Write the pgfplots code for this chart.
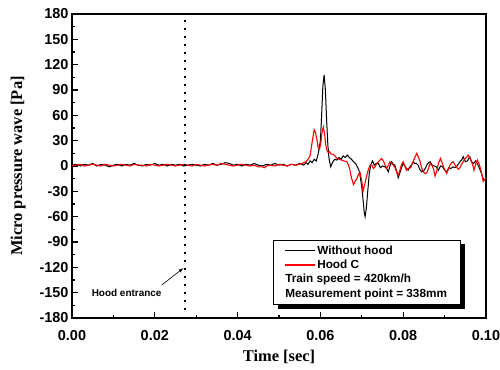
\documentclass[border=0pt]{standalone}
\usepackage{fontspec}
\setmainfont{Liberation Sans}
\newfontfamily\serifb{Liberation Serif}
\usepackage{pgfplots}
\usepackage{pgfplotstable}
\pgfplotsset{compat=1.18}
\usetikzlibrary{backgrounds}

\pgfplotstableread{
t v
0.0000 1
0.0010 2
0.0020 0
0.0030 2
0.0040 1
0.0050 3
0.0060 0
0.0070 2
0.0080 1
0.0090 -1
0.0100 1
0.0110 2
0.0120 0
0.0130 2
0.0140 1
0.0150 3
0.0160 1
0.0170 0
0.0180 2
0.0190 1
0.0200 3
0.0210 1
0.0220 2
0.0230 0
0.0240 2
0.0250 1
0.0260 2
0.0270 0
0.0280 1
0.0290 2
0.0300 1
0.0310 0
0.0320 2
0.0330 1
0.0340 3
0.0350 1
0.0360 2
0.0370 4
0.0380 3
0.0390 1
0.0400 2
0.0410 0
0.0420 2
0.0430 1
0.0440 3
0.0450 1
0.0460 0
0.0470 2
0.0480 1
0.0490 3
0.0500 1
0.0510 2
0.0520 0
0.0530 2
0.0540 1
0.0550 3
0.0560 1
0.0565 4
0.0570 2
0.0575 6
0.0580 4
0.0585 8
0.0590 6
0.0595 15
0.0600 30
0.0603 60
0.0606 95
0.0609 108
0.0612 90
0.0615 55
0.0618 25
0.0621 8
0.0625 -1
0.0630 5
0.0635 8
0.0640 7
0.0645 10
0.0650 8
0.0655 12
0.0660 10
0.0665 13
0.0670 10
0.0675 8
0.0680 5
0.0685 3
0.0690 -2
0.0693 -5
0.0696 -12
0.0700 -25
0.0703 -40
0.0706 -55
0.0708 -60
0.0711 -50
0.0714 -32
0.0718 -9
0.0722 2
0.0726 6
0.0730 1
0.0735 3
0.0740 3
0.0745 -2
0.0750 0
0.0756 -1
0.0760 -3
0.0764 -7
0.0768 0
0.0772 5
0.0776 2
0.0780 1
0.0784 -6
0.0788 -14
0.0792 -8
0.0796 -2
0.0800 3
0.0804 0
0.0808 -3
0.0812 -5
0.0816 -1
0.0820 1
0.0824 5
0.0828 3
0.0832 3
0.0836 1
0.0840 -4
0.0845 -7
0.0849 -6
0.0853 -3
0.0857 1
0.0861 4
0.0865 5
0.0870 1
0.0875 0
0.0880 -1
0.0885 -5
0.0890 0
0.0895 -1
0.0900 -5
0.0905 -7
0.0910 -2
0.0915 -3
0.0920 -1
0.0925 -2
0.0930 0
0.0937 5
0.0941 7
0.0945 11
0.0950 5
0.0955 6
0.0961 11
0.0965 5
0.0970 3
0.0975 6
0.0980 2
0.0986 -5
0.0990 -10
0.0994 -16
0.1000 -17
}\nohood

\pgfplotstableread{
t v
0.0000 0
0.0010 1
0.0020 2
0.0030 0
0.0040 1
0.0050 2
0.0060 1
0.0070 0
0.0080 2
0.0090 1
0.0100 0
0.0110 1
0.0120 2
0.0130 1
0.0140 0
0.0150 2
0.0160 1
0.0170 1
0.0180 0
0.0190 2
0.0200 1
0.0210 0
0.0220 1
0.0230 2
0.0240 1
0.0250 0
0.0260 1
0.0270 2
0.0280 1
0.0290 0
0.0300 2
0.0310 1
0.0320 0
0.0330 1
0.0340 2
0.0350 1
0.0360 3
0.0370 2
0.0380 1
0.0390 0
0.0400 1
0.0410 2
0.0420 1
0.0430 0
0.0440 1
0.0450 -1
0.0460 -1
0.0465 -2
0.0470 0
0.0480 1
0.0490 0
0.0500 2
0.0510 1
0.0520 0
0.0530 2
0.0540 1
0.0550 2
0.0560 4
0.0565 5
0.0570 8
0.0575 12
0.0580 28
0.0585 43
0.0588 40
0.0592 30
0.0595 21
0.0598 20
0.0601 28
0.0604 40
0.0607 46
0.0610 38
0.0613 25
0.0616 18
0.0619 16
0.0622 17
0.0626 14
0.0630 14
0.0635 12
0.0640 9
0.0645 8
0.0651 7
0.0657 6
0.0664 5
0.0668 1
0.0671 -4
0.0675 -14
0.0680 -22
0.0684 -18
0.0688 -15
0.0692 -10
0.0696 -8
0.0700 -18
0.0703 -30
0.0707 -22
0.0712 -11
0.0716 -4
0.0720 1
0.0724 1
0.0728 -3
0.0732 -1
0.0736 3
0.0742 6
0.0748 9
0.0753 5
0.0760 -3
0.0764 1
0.0768 5
0.0772 3
0.0776 1
0.0780 -2
0.0784 -7
0.0788 -11
0.0792 -5
0.0796 2
0.0800 5
0.0804 0
0.0808 -5
0.0812 -3
0.0818 -2
0.0824 5
0.0828 10
0.0833 15
0.0837 10
0.0841 5
0.0845 -3
0.0849 -7
0.0853 -9
0.0857 -8
0.0861 -3
0.0865 3
0.0869 1
0.0873 -3
0.0877 -12
0.0881 -6
0.0885 3
0.0890 9
0.0894 4
0.0898 -2
0.0902 -6
0.0905 -9
0.0909 -4
0.0913 1
0.0917 4
0.0921 5
0.0925 1
0.0929 -1
0.0933 -4
0.0937 -2
0.0941 2
0.0947 7
0.0952 10
0.0957 13
0.0961 9
0.0965 5
0.0968 1
0.0971 -5
0.0975 2
0.0979 7
0.0983 3
0.0986 -2
0.0990 -10
0.0993 -18
0.0997 -16
0.1000 -14
}\hoodc

\begin{document}
\begin{tikzpicture}
\begin{axis}[
  scale only axis,
  width=414bp, height=304bp,
  xmin=0, xmax=0.1, ymin=-180, ymax=180,
  xtick={0,0.02,...,0.1},
  ytick={-180,-150,...,180},
  minor x tick num=1, minor y tick num=1,
  xtick pos=bottom, ytick pos=left,
  tick align=inside,
  major tick length=6bp, minor tick length=3bp,
  every tick/.style={black, line width=1.2bp},
  axis line style={line width=1.5bp},
  /pgf/number format/assume math mode=true,
  xticklabel={\pgfmathprintnumber[fixed,fixed zerofill,precision=2]{\tick}},
  yticklabel={\pgfmathprintnumber{\tick}},
  xticklabel style={yshift=-9bp},
  scaled x ticks=false,
  tick label style={font=\bfseries\fontsize{14.5}{16}\selectfont},
  xlabel={Time [sec]},
  ylabel={Micro pressure wave [Pa]},
  label style={font=\serifb\bfseries\fontsize{16.5}{18}\selectfont},
  xlabel style={yshift=-3bp},
  ylabel style={yshift=7bp},
  legend cell align=left,
  legend style={name=leg, at={(rel axis cs:0.4855,0.2566)}, anchor=north west,
    draw=none, fill=none,
    font=\bfseries\fontsize{11.8}{13}\selectfont,
    row sep=0.3bp, inner xsep=11bp, inner ysep=3.5bp},
  legend image code/.code={\draw[#1, line width=1.1bp] (0bp,0bp) -- (30bp,0bp);},
  clip=false,
]
\addplot[black, line width=1bp] table[x=t,y=v] {\nohood};
\addlegendentry{Without hood}
\addplot[red, line width=1.1bp] table[x=t,y=v] {\hoodc};
\addlegendentry{Hood C}
\addlegendimage{empty legend}
\addlegendentry{\hspace{-32bp}Train speed = 420km/h}
\addlegendimage{empty legend}
\addlegendentry{\hspace{-32bp}Measurement point = 338mm}
\addplot[black, line width=1.5bp, dash pattern=on 1.5bp off 6.5bp, forget plot] coordinates {(0.0273,-180) (0.0273,180)};
\draw[-latex, line width=0.6bp] (axis cs:0.02167,-141) -- (axis cs:0.02689,-121);
\node[font=\bfseries\fontsize{10}{12}\selectfont] at (axis cs:0.0132,-150.8) {Hood entrance};
\coordinate (ll) at (rel axis cs:0,0);
\coordinate (ur) at (rel axis cs:1,1);
\end{axis}
\begin{scope}[on background layer]
\fill[black] ([shift={(4.5bp,-4.5bp)}]leg.south west) rectangle ([shift={(4.5bp,-4.5bp)}]leg.north east);
\filldraw[fill=white, draw=black, line width=0.6bp] (leg.south west) rectangle (leg.north east);
\end{scope}
\pgfresetboundingbox
\path[use as bounding box] ([shift={(-72bp,-52bp)}]ll) rectangle ([shift={(14bp,14bp)}]ur);
\end{tikzpicture}
\end{document}
